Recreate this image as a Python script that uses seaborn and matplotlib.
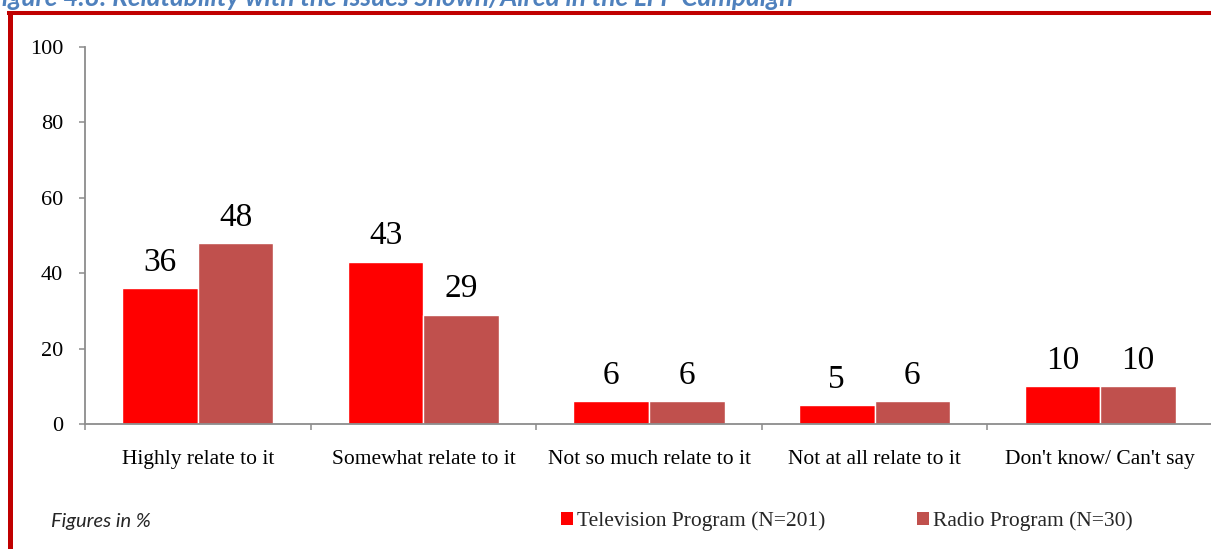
import matplotlib
matplotlib.use("Agg")
import matplotlib.pyplot as plt
from matplotlib.lines import Line2D
from matplotlib.patches import Patch
import seaborn as sns
import pandas as pd

# Survey responses (% of respondents)
categories = ["Highly relate to it", "Somewhat relate to it", "Not so much relate to it",
              "Not at all relate to it", "Don't know/ Can't say"]
tv_values = [36, 43, 6, 5, 10]
radio_values = [48, 29, 6, 6, 10]
series_names = ["Television Program (N=201)", "Radio Program (N=30)"]
series_colors = ["#FF0000", "#C0504D"]
y_ticks = [0, 20, 40, 60, 80, 100]

df = pd.DataFrame({
    "category": categories * 2,
    "series": [series_names[0]] * len(categories) + [series_names[1]] * len(categories),
    "value": tv_values + radio_values,
})

sns.set_theme(style="white")
serif = ["Liberation Serif", "DejaVu Serif"]
plt.rcParams["font.family"] = serif

W, H = 1211, 549
fig = plt.figure(figsize=(W / 100, H / 100), dpi=100)
ax = fig.add_axes([85 / W, (H - 424) / H, 1128 / W, 377 / H])

sns.barplot(data=df, x="category", y="value", hue="series", order=categories,
            hue_order=series_names, palette=series_colors, width=0.67, gap=0,
            saturation=1, ax=ax, legend=False, errorbar=None)

ax.set_xlim(-0.5, len(categories) - 0.5)
ax.set_ylim(0, 100)
ax.set_yticks(y_ticks)
ax.set_xlabel("")
ax.set_ylabel("")

axis_grey = "#8C8C8C"
for side in ("top", "right"):
    ax.spines[side].set_visible(False)
for side in ("left", "bottom"):
    ax.spines[side].set_color(axis_grey)
    ax.spines[side].set_linewidth(1.3)

ax.tick_params(axis="y", which="major", direction="out", length=4.3, width=1.1,
               color=axis_grey, pad=11.5, labelsize=16, labelcolor="black", left=True)
ax.tick_params(axis="x", which="major", length=0, pad=19, labelsize=15.5, labelcolor="black")
ax.set_xticks([i - 0.5 for i in range(len(categories) + 1)], minor=True)
ax.tick_params(axis="x", which="minor", direction="out", length=4.3, width=1.1,
               color=axis_grey, bottom=True)

# value labels above each bar
for container in ax.containers:
    ax.bar_label(container, fmt="%.0f", padding=7.5, fontsize=24, color="black")

# legend and note along the bottom
handles = [Patch(facecolor=c, edgecolor="none") for c in series_colors]
fig.legend(handles, series_names, loc="center left",
           bbox_to_anchor=(561 / W, (H - 521) / H), ncol=2, frameon=False,
           fontsize=15.5, handlelength=0.55, handleheight=0.55, handletextpad=0.2,
           columnspacing=4.25, borderpad=0, borderaxespad=0)
fig.text(51 / W, (H - 521) / H, "Figures in %", fontsize=14.5, style="italic",
         family=["Lato", "DejaVu Sans"], va="center", ha="left")

# caption line and frame
fig.text(-12 / W, (H - 6.5) / H, "Figure 4.8: Relatability with the Issues Shown/Aired in the LFP Campaign",
         fontsize=18.8, weight="bold", style="italic", color="#4F81BD",
         family=["Lato", "DejaVu Sans"], va="baseline", ha="left")
frame_red = "#C00000"
fig.add_artist(Line2D([7 / W, 1.0], [(H - 13) / H] * 2, color=frame_red, lw=2.9,
                      transform=fig.transFigure, solid_capstyle="butt"))
fig.add_artist(Line2D([10 / W] * 2, [(H - 11) / H, 0], color=frame_red, lw=3.6,
                      transform=fig.transFigure, solid_capstyle="butt"))

fig.savefig("out.png", dpi=100)
